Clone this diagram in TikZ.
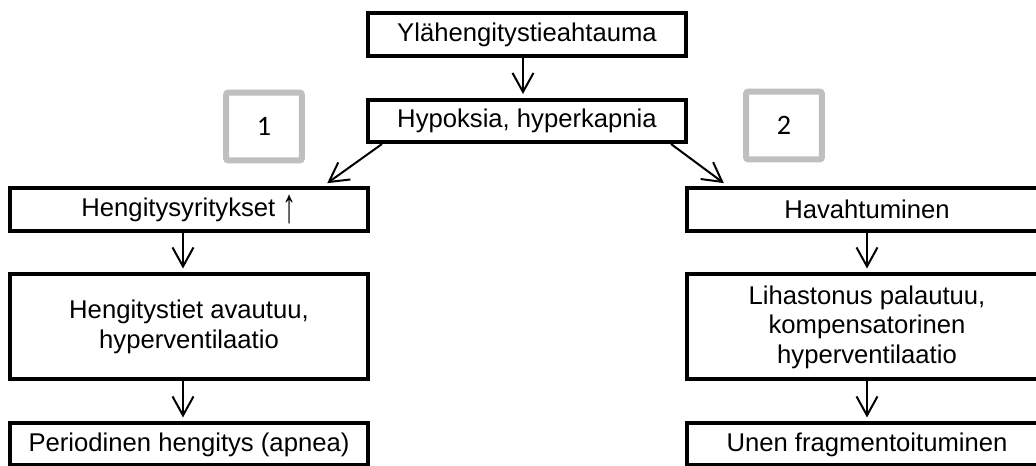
\documentclass[tikz,border=0pt]{standalone}
\usepackage{fontspec}
\setmainfont{Liberation Sans}
\newfontfamily\numfont{Carlito}
\usepackage{xcolor}
\usepackage{graphicx}
\usetikzlibrary{positioning, arrows.meta}

\definecolor{numgray}{RGB}{191,191,191}
\newcommand{\tallup}{\raisebox{-0.22em}{\scalebox{1.1}[1.9]{↑}}}
\tikzset{
  box/.style={draw, line width=0.08cm, inner sep=0pt, align=center,
    font=\fontsize{14.6}{16.8}\selectfont},
  numbox/.style={draw=numgray, line width=0.12cm, rounded corners=0.05cm,
    minimum width=1.52cm, minimum height=1.36cm, font=\numfont\fontsize{16}{19}\selectfont},
}

\begin{document}
\begin{tikzpicture}[->,>={Straight Barb[length=0.38cm,width=0.42cm]},shorten >=0.08cm, line width=0.04cm, x=0.02cm, y=-0.02cm, node distance=2.35cm]
      \useasboundingbox (0,0) rectangle (1036,466);

      % Top of the chain
      \node[box, minimum width=6.36cm, minimum height=0.88cm] (upper) at (527,34.5) {Ylähengitystieahtauma};
      \node[box, minimum width=6.36cm, minimum height=0.84cm, node distance=1.73cm, below of=upper] (hypox) {Hypoksia, hyperkapnia};

      % Numbered tags
      \node[numbox] (one) at (264,126.5) {1};
      \node[numbox] (two) at (784,125.5) {2};

      % Column 1
      \node[box, minimum width=7.16cm, minimum height=0.88cm] (tries) at (189,209.5) {Hengitysyritykset \tallup};
      \node[box, minimum width=7.16cm, minimum height=2.1cm] (opens) [below of=tries] {Hengitystiet avautuu,\\hyperventilaatio};
      \node[box, minimum width=7.16cm, minimum height=0.84cm] (periodic) [below of=opens] {Periodinen hengitys (apnea)};

      % Column 2
      \node[box, minimum width=7.2cm, minimum height=0.88cm] (arousal) at (867,209.5) {Havahtuminen};
      \node[box, minimum width=7.2cm, minimum height=2.1cm] (tone) [below of=arousal] {Lihastonus palautuu,\\kompensatorinen\\hyperventilaatio};
      \node[box, minimum width=7.2cm, minimum height=0.84cm] (fragment) [below of=tone] {Unen fragmentoituminen};

      % Arrows
      \path ([xshift=-0.08cm]upper.south) edge ([xshift=-0.08cm]hypox.north)
            ([xshift=0.32cm]hypox.south west) edge ([xshift=-0.92cm]tries.north east)
            ([xshift=-0.34cm]hypox.south east) edge ([xshift=0.84cm]arousal.north west)
            ;

      \path ([xshift=-0.12cm]tries.south) edge ([xshift=-0.12cm]opens.north)
            ([xshift=-0.12cm]opens.south) edge ([xshift=-0.12cm]periodic.north)
            (arousal) edge (tone)
            (tone) edge (fragment)
            ;
\end{tikzpicture}
\end{document}
